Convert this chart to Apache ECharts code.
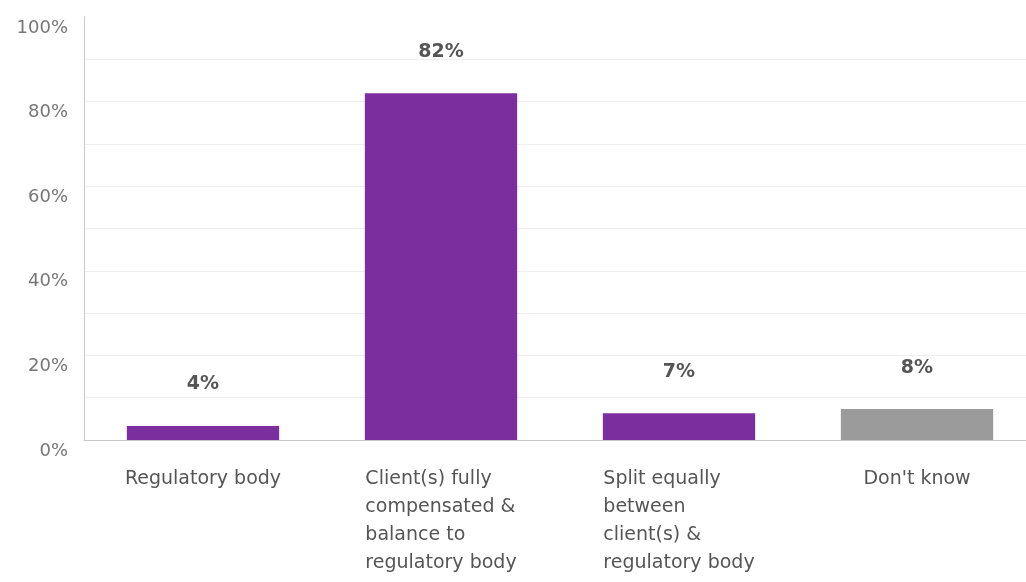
<!DOCTYPE html>
<html><head><meta charset="utf-8">
<script src="https://cdn.jsdelivr.net/npm/echarts@6/dist/echarts.min.js"></script>
<style>html,body{margin:0;padding:0;background:#fff;overflow:hidden;width:1026px;height:582px}#c{width:1040px;height:582px}</style>
</head><body><div id="c"></div>
<script>
const categories = [
  "Regulatory body",
  "Client(s) fully\ncompensated &\nbalance to\nregulatory body",
  "Split equally\nbetween\nclient(s) &\nregulatory body",
  "Don't know"
];
const values = [3.3, 82, 6.3, 7.3];
const valueLabels = ["4%", "82%", "7%", "8%"];
const barColors = ["#7b2e9d", "#7b2e9d", "#7b2e9d", "#9b9b9b"];
const yTicks = [0, 20, 40, 60, 80, 100];

const chart = echarts.init(document.getElementById('c'));
const font = '"DejaVu Sans", sans-serif';
chart.setOption({
  animation: false,
  grid: {left: 84, top: 17, bottom: 142, width: 952},
  xAxis: {
    type: 'category',
    data: categories,
    axisLine: {lineStyle: {color: '#c8c8c8', width: 1}},
    axisTick: {show: false},
    axisLabel: {
      margin: 25,
      align: 'center',
      formatter: v => v.split('\n').map(l => '{a|' + l + '}').join('\n'),
      rich: {a: {align: 'left', fontFamily: font, fontSize: 19, color: '#555', lineHeight: 28}}
    }
  },
  yAxis: {
    type: 'value', min: 0, max: 100, interval: 10,
    axisLine: {show: true, lineStyle: {color: '#c8c8c8'}},
    axisTick: {show: false},
    splitLine: {show: true, showMaxLine: false, lineStyle: {color: '#eeeeee'}},
    axisLabel: {
      margin: 16, fontFamily: font, fontSize: 18, color: '#777',
      verticalAlign: 'top', padding: [2, 0, 0, 0],
      formatter: v => yTicks.includes(v) ? v + '%' : ''
    }
  },
  series: [{
    type: 'bar',
    barWidth: '64%',
    data: values.map((v, i) => ({value: v, itemStyle: {color: barColors[i]}})),
    label: {
      show: true, position: 'top', distance: 32,
      formatter: p => valueLabels[p.dataIndex],
      fontFamily: font, fontSize: 19, fontWeight: 'bold', color: '#555'
    }
  }]
});
</script></body></html>
